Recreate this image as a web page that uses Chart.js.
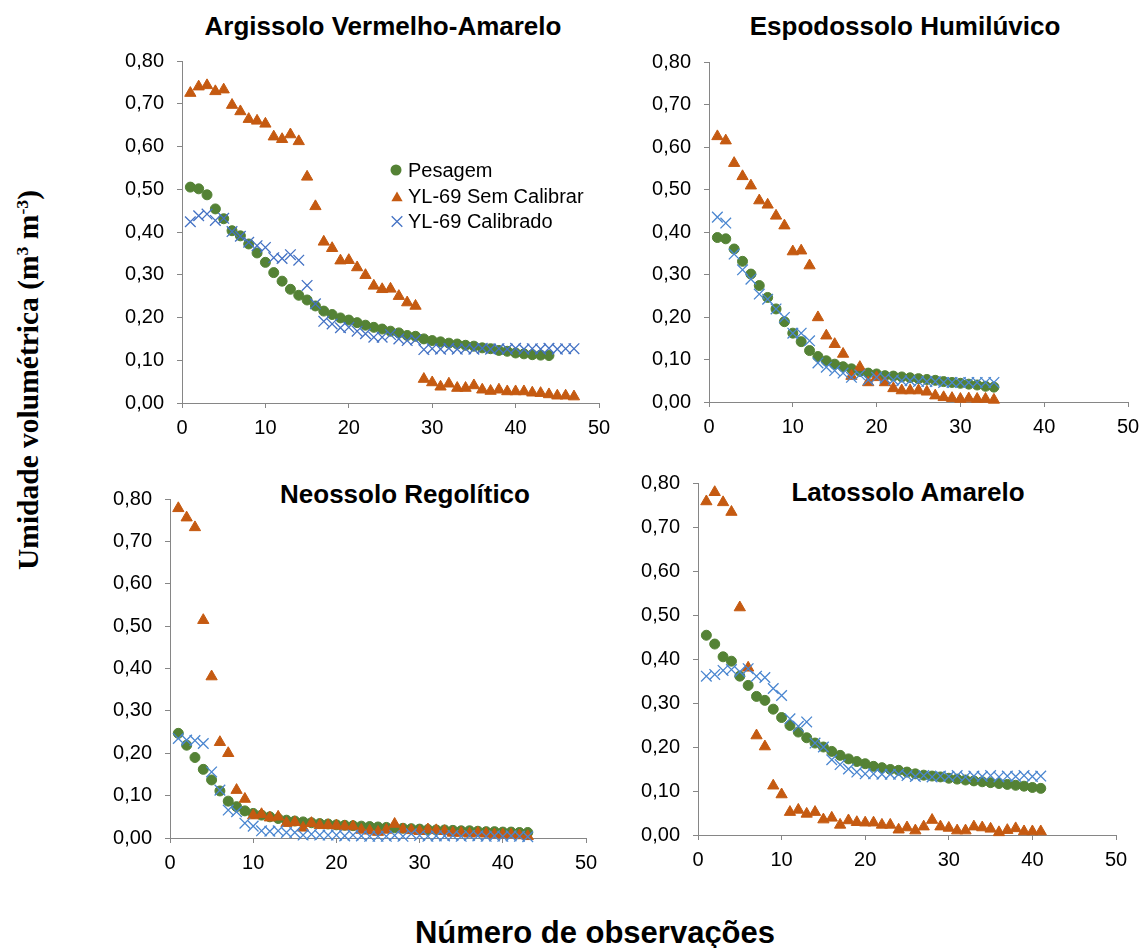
<!DOCTYPE html>
<html><head><meta charset="utf-8">
<script src="https://cdn.jsdelivr.net/npm/chart.js@4.4.1/dist/chart.umd.min.js"></script>
<style>
html,body{margin:0;padding:0;background:#fff;}
body{width:1148px;height:948px;position:relative;overflow:hidden;font-family:"Liberation Sans",Arial,sans-serif;}
canvas{position:absolute;}
.t{position:absolute;white-space:nowrap;font-weight:bold;color:#000;text-align:center;line-height:1;width:600px;}
#ytitle{position:absolute;left:29px;top:380px;transform:translate(-50%,-50%) rotate(-90deg);white-space:nowrap;font-family:"Liberation Serif","Times New Roman",serif;font-weight:bold;font-size:29.5px;line-height:1;color:#000;}
#ytitle sup{font-size:0.6em;vertical-align:0.6em;line-height:0;}
</style></head><body>

<div class="t" style="left:83px;top:13px;font-size:26px;">Argissolo Vermelho-Amarelo</div>
<div class="t" style="left:605px;top:13px;font-size:26px;">Espodossolo Humilúvico</div>
<div class="t" style="left:105px;top:481px;font-size:26px;">Neossolo Regolítico</div>
<div class="t" style="left:608px;top:479px;font-size:26px;">Latossolo Amarelo</div>
<div class="t" style="left:295px;top:917px;font-size:31px;">Número de observações</div>
<div id="ytitle">Umidade volumétrica (m<sup>3</sup> m<sup>-3</sup>)</div>

<canvas id="c1" width="501" height="408" style="left:120px;top:35px;"></canvas>
<canvas id="c2" width="503" height="406" style="left:647px;top:36px;"></canvas>
<canvas id="c3" width="500" height="405" style="left:108px;top:473px;"></canvas>
<canvas id="c4" width="502" height="418" style="left:636px;top:457px;"></canvas>

<script>
// ---- Data (observation number = position in array, starting at 1) ----
const xTicks = [0, 10, 20, 30, 40, 50];
const yTicks = [0, 0.1, 0.2, 0.3, 0.4, 0.5, 0.6, 0.7, 0.8];
const seriesNames = ['Pesagem', 'YL-69 Sem Calibrar', 'YL-69 Calibrado'];
const panelTitles = ['Argissolo Vermelho-Amarelo', 'Espodossolo Humilúvico', 'Neossolo Regolítico', 'Latossolo Amarelo'];

const argPesagem = [0.505,0.501,0.487,0.454,0.431,0.403,0.391,0.372,0.351,0.329,
  0.305,0.285,0.266,0.252,0.241,0.227,0.215,0.207,0.199,0.194,
  0.188,0.182,0.177,0.173,0.168,0.164,0.158,0.156,0.150,0.146,
  0.143,0.140,0.138,0.135,0.133,0.129,0.127,0.123,0.121,0.117,
  0.115,0.113,0.112,0.111];
const argSem = [0.725,0.740,0.743,0.729,0.733,0.697,0.682,0.664,0.660,0.653,
  0.623,0.617,0.628,0.612,0.529,0.460,0.377,0.362,0.333,0.334,
  0.317,0.299,0.274,0.266,0.267,0.250,0.235,0.227,
  0.056,0.048,0.038,0.045,0.035,0.035,0.041,0.031,0.028,0.031,
  0.027,0.027,0.027,0.024,0.023,0.020,0.017,0.017,0.015];
const argCal = [0.424,0.438,0.442,0.427,0.432,0.401,0.390,0.376,0.368,0.364,
  0.340,0.338,0.347,0.334,0.275,0.232,0.191,0.185,0.176,0.177,
  0.168,0.162,0.154,0.154,0.160,0.150,0.146,0.148,
  0.125,0.127,0.126,0.128,0.126,0.127,0.126,0.128,0.126,0.127,
  0.126,0.128,0.126,0.127,0.126,0.128,0.126,0.127,0.127];

const espPesagem = [0.387,0.384,0.360,0.331,0.301,0.274,0.246,0.219,0.189,0.162,
  0.142,0.121,0.107,0.097,0.089,0.083,0.078,0.072,0.068,0.066,0.062,
  0.061,0.059,0.057,0.055,0.053,0.051,0.048,0.046,0.044,0.042,0.040,0.037,0.035];
const espSem = [0.625,0.615,0.562,0.531,0.509,0.474,0.464,0.438,0.415,0.354,
  0.356,0.321,0.199,0.156,0.136,0.113,0.061,0.082,0.046,0.058,
  0.046,0.032,0.027,0.027,0.027,0.024,0.015,0.011,0.009,0.007,0.008,0.007,0.007,0.005];
const espCal = [0.435,0.421,0.348,0.311,0.289,0.254,0.242,0.219,0.199,0.162,
  0.162,0.144,0.092,0.082,0.074,0.068,0.058,0.064,0.052,0.058,0.056,
  0.052,0.050,0.050,0.048,0.048,0.048,0.046,0.046,0.046,0.046,0.046,0.046,0.046];

const neoPesagem = [0.247,0.219,0.190,0.162,0.137,0.111,0.087,0.074,0.064,0.058,
  0.054,0.050,0.046,0.042,0.040,0.038,0.036,0.034,0.033,0.031,
  0.030,0.029,0.028,0.027,0.026,0.025,0.024,0.023,0.022,0.021,
  0.020,0.019,0.019,0.018,0.017,0.017,0.016,0.015,0.015,0.014,0.014,0.013,0.013];
const neoSem = [0.778,0.756,0.733,0.514,0.381,0.226,0.200,0.113,0.092,0.053,
  0.056,0.048,0.050,0.035,0.037,0.024,0.035,0.030,0.030,0.029,
  0.027,0.027,0.019,0.017,0.014,0.019,0.033,
  0.020,0.018,0.016,0.020,0.018,0.016,0.012,0.012,0.010,0.012,0.010,0.008,0.008,0.008,0.006,0.004];
const neoCal = [0.235,0.231,0.230,0.223,0.156,0.113,0.066,0.062,0.035,0.028,
  0.017,0.016,0.017,0.013,0.013,0.007,0.009,0.007,0.007,0.007,
  0.005,0.007,0.005,0.004,0.004,0.004,
  0.006,0.004,0.010,0.006,0.004,0.005,0.005,0.006,0.004,0.006,0.005,0.004,0.005,0.004,0.005,0.004,0.003];

const latPesagem = [0.454,0.434,0.405,0.395,0.361,0.340,0.315,0.306,0.286,0.267,
  0.249,0.234,0.221,0.209,0.200,0.190,0.181,0.173,0.167,0.162,
  0.156,0.153,0.149,0.147,0.143,0.139,0.136,0.134,0.132,0.129,
  0.127,0.125,0.123,0.121,0.119,0.117,0.115,0.113,0.111,0.108,0.106];
const latSem = [0.758,0.779,0.756,0.734,0.517,0.380,0.226,0.201,0.112,0.092,
  0.052,0.057,0.048,0.052,0.035,0.039,0.023,0.033,0.029,0.028,
  0.028,0.023,0.023,0.012,0.017,0.010,0.019,0.034,0.019,0.016,
  0.010,0.010,0.019,0.017,0.014,0.006,0.011,0.015,0.008,0.008,0.008];
const latCal = [0.361,0.365,0.374,0.376,0.371,0.378,0.361,0.358,0.333,0.317,
  0.264,0.247,0.257,0.209,0.200,0.171,0.160,0.150,0.143,0.139,
  0.139,0.138,0.138,0.138,0.135,0.133,0.135,0.132,0.134,0.133,
  0.135,0.132,0.134,0.133,0.135,0.132,0.134,0.133,0.135,0.133,0.134];

// ---- Styling ----
const GREEN = '#548235', ORANGE = '#C55A11';
const AXIS = '#868686';
const FONT = '"Liberation Sans", Arial, sans-serif';
Chart.defaults.font.family = FONT;
Chart.defaults.color = '#000';

function toXY(arr) { return arr.map((v, i) => ({x: i + 1, y: v})); }

function datasets(p, s, c, blue) {
  return [
    {label: seriesNames[2], data: toXY(c), pointStyle: 'crossRot', pointRadius: 7.5,
     pointBorderColor: blue, pointBackgroundColor: blue, pointBorderWidth: 1.3,
     borderColor: blue, backgroundColor: blue, order: 0, clip: false},
    {label: seriesNames[1], data: toXY(s), pointStyle: 'triangle', pointRadius: 6.5,
     pointBorderColor: ORANGE, pointBackgroundColor: ORANGE, pointBorderWidth: 1,
     borderColor: ORANGE, backgroundColor: ORANGE, order: 1, clip: false},
    {label: seriesNames[0], data: toXY(p), pointStyle: 'circle', pointRadius: 5,
     pointBorderColor: GREEN, pointBackgroundColor: GREEN, pointBorderWidth: 1,
     borderColor: GREEN, backgroundColor: GREEN, order: 2, clip: false}
  ];
}

function scales() {
  return {
    x: {
      type: 'linear', min: xTicks[0], max: xTicks[xTicks.length - 1],
      afterBuildTicks: s => { s.ticks = xTicks.map(v => ({value: v})); },
      ticks: {font: {size: 20}, padding: 8, maxRotation: 0, color: '#000'},
      grid: {drawOnChartArea: false, drawTicks: true, tickLength: 5, color: AXIS, lineWidth: 1},
      border: {color: AXIS, width: 1},
      afterFit: s => { s.height = 40; }
    },
    y: {
      type: 'linear', min: yTicks[0], max: yTicks[yTicks.length - 1],
      afterBuildTicks: s => { s.ticks = yTicks.map(v => ({value: v})); },
      ticks: {font: {size: 20}, padding: 13, color: '#000',
              callback: v => Number(v).toFixed(2).replace('.', ',')},
      grid: {drawOnChartArea: false, drawTicks: true, tickLength: 5, color: AXIS, lineWidth: 1},
      border: {color: AXIS, width: 1},
      afterFit: s => { s.width = 62; }
    }
  };
}

// legend drawn inside first panel (page coordinates converted to canvas coordinates)
const legendPlugin = {
  id: 'innerLegend',
  afterDraw(chart) {
    const ctx = chart.ctx;
    const ox = 120, oy = 35;
    const items = [
      {name: seriesNames[0], style: 'circle', color: GREEN, mx: 396, my: 170, base: 177},
      {name: seriesNames[1], style: 'triangle', color: ORANGE, mx: 397, my: 198, base: 203},
      {name: seriesNames[2], style: 'crossRot', color: '#4472C4', mx: 397, my: 221.5, base: 228}
    ];
    ctx.save();
    items.forEach(it => {
      const x = it.mx - ox, y = it.my - oy;
      ctx.fillStyle = it.color; ctx.strokeStyle = it.color;
      if (it.style === 'circle') {
        ctx.beginPath(); ctx.arc(x, y, 5.5, 0, Math.PI * 2); ctx.fill();
      } else if (it.style === 'triangle') {
        const r = 6.5; let a = 0;
        ctx.beginPath();
        ctx.moveTo(x + Math.sin(a) * r, y - Math.cos(a) * r); a += 2 * Math.PI / 3;
        ctx.lineTo(x + Math.sin(a) * r, y - Math.cos(a) * r); a += 2 * Math.PI / 3;
        ctx.lineTo(x + Math.sin(a) * r, y - Math.cos(a) * r);
        ctx.closePath(); ctx.fill();
      } else {
        const d = 5.3; ctx.lineWidth = 1.3;
        ctx.beginPath();
        ctx.moveTo(x - d, y - d); ctx.lineTo(x + d, y + d);
        ctx.moveTo(x - d, y + d); ctx.lineTo(x + d, y - d);
        ctx.stroke();
      }
      ctx.fillStyle = '#000';
      ctx.font = '20px ' + FONT;
      ctx.textAlign = 'left'; ctx.textBaseline = 'alphabetic';
      ctx.fillText(it.name, 408 - ox, it.base - oy);
    });
    ctx.restore();
  }
};

function makeChart(id, dsets, extraPlugins) {
  return new Chart(document.getElementById(id), {
    type: 'scatter',
    data: {datasets: dsets},
    options: {
      responsive: false, animation: false, events: [],
      layout: {padding: {top: 26, right: 22, left: 0, bottom: 0}},
      plugins: {legend: {display: false}, tooltip: {enabled: false}, title: {display: false}},
      scales: scales()
    },
    plugins: extraPlugins || []
  });
}

makeChart('c1', datasets(argPesagem, argSem, argCal, '#4472C4'), [legendPlugin]);
makeChart('c2', datasets(espPesagem, espSem, espCal, '#4A86D0'));
makeChart('c3', datasets(neoPesagem, neoSem, neoCal, '#4A86D0'));
makeChart('c4', datasets(latPesagem, latSem, latCal, '#4A86D0'));
</script>
</body></html>
